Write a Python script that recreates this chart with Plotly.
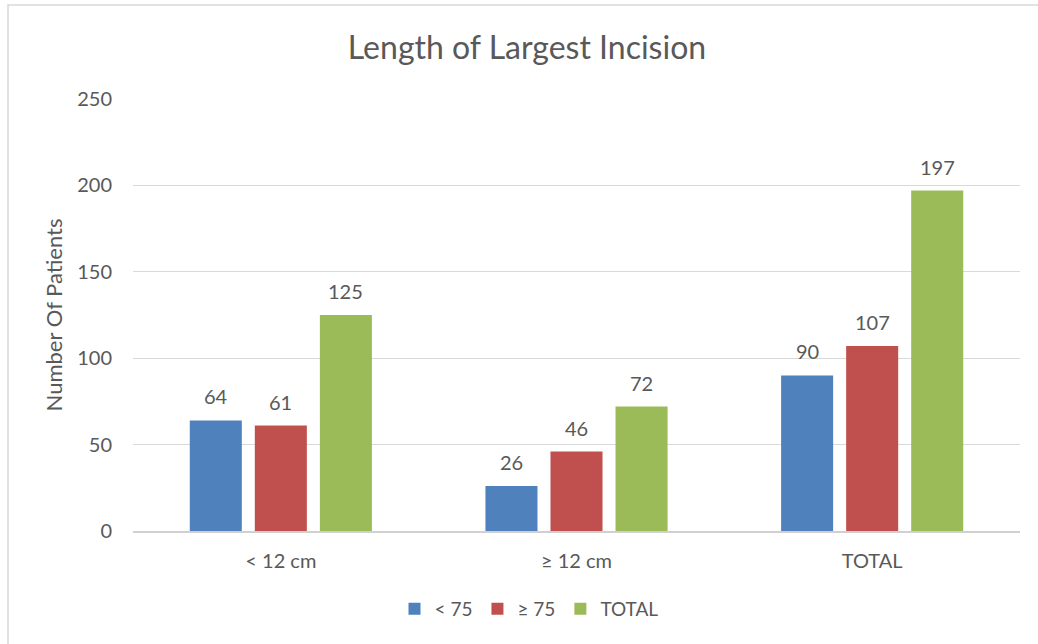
import plotly.graph_objects as go

categories = ["< 12 cm", "≥ 12 cm", "TOTAL"]
series_names = ["< 75", "≥ 75", "TOTAL"]
lt75 = [64, 26, 90]
ge75 = [61, 46, 107]
total = [125, 72, 197]
y_ticks = [0, 50, 100, 150, 200, 250]

colors = ["#4F81BD", "#C0504D", "#9BBB59"]
values = [lt75, ge75, total]
FONT = "Lato, Calibri, Carlito, sans-serif"
TXT = "#595959"

fig = go.Figure()
for name, vals, col in zip(series_names, values, colors):
    fig.add_trace(go.Bar(name=name, x=categories, y=vals,
                         marker=dict(color=col, line=dict(width=0))))

# data labels above bars
L, R, T, B = 133, 18, 99, 113
W = 1038 - L - R
slot = W / 3 * (1 - 0.34) / 3
for i, vals in enumerate(values):
    for c, v in zip(categories, vals):
        fig.add_annotation(x=c, y=v, text=str(v), showarrow=False,
                           xshift=(i - 1) * slot, yanchor="bottom", yshift=10,
                           font=dict(family=FONT, size=20, color=TXT))

# chart border
fig.add_shape(type="rect", xref="paper", yref="paper",
              x0=(8 - L) / W, x1=1.2, y0=-0.6, y1=(531 - 5) / 432,
              line=dict(color="#D9D9D9", width=1.5), fillcolor="rgba(0,0,0,0)", layer="below")

fig.update_layout(
    width=1038, height=644,
    margin=dict(l=L, r=R, t=T, b=B),
    paper_bgcolor="white", plot_bgcolor="white",
    barmode="group", bargap=0.34, bargroupgap=0.2,
    font=dict(family=FONT, size=20, color=TXT),
    title=dict(text="Length of Largest Incision", x=527 / 1038, xanchor="center",
               y=1 - 48 / 644, yanchor="middle", yref="container",
               font=dict(family=FONT, size=32, color=TXT)),
    showlegend=True,
    legend=dict(orientation="h", x=(529 - L) / W, xanchor="center", y=(531 - 609) / 432, yanchor="middle",
                font=dict(family=FONT, size=19, color=TXT), itemclick=False, traceorder="normal",
                itemwidth=30),
)
fig.update_yaxes(range=[0, 250], tickvals=y_ticks, showgrid=True, gridcolor="#D9D9D9", gridwidth=1,
                 zeroline=False, showline=False, ticklabelstandoff=20,
                 title=dict(text="Number Of Patients", standoff=8, font=dict(family=FONT, size=22, color=TXT)),
                 tickfont=dict(family=FONT, size=20, color=TXT))
fig.update_xaxes(showline=True, linecolor="#D0D0D0", linewidth=1.5, showgrid=False, ticklabelstandoff=11,
                 tickfont=dict(family=FONT, size=20, color=TXT))

fig.write_html("out.html")
